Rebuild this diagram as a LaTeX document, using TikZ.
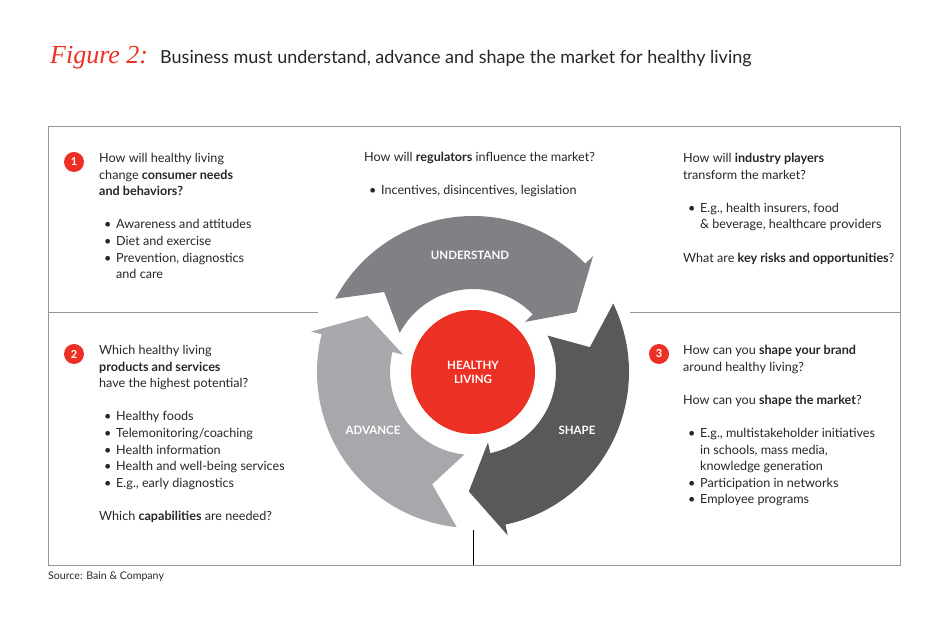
\documentclass[tikz,border=0pt]{standalone}
\usepackage{fontspec}
\setmainfont{Lato}
\newfontfamily\figfont{Liberation Serif}
\definecolor{bainred}{RGB}{237,48,36}
\definecolor{ringA}{RGB}{128,129,132}
\definecolor{ringB}{RGB}{88,89,91}
\definecolor{ringC}{RGB}{167,168,171}
\definecolor{rulegray}{RGB}{150,150,150}
\newcommand\bl{\hspace*{5pt}\makebox[12pt][l]{\textbullet}}
\newcommand\ct{\hspace*{17pt}}
% clockwise ring arrow: tail angle, tip angle, colour
\newcommand\ringarrow[3]{%
  \fill[#3] ($(Cn)+(#1:\Ro)$) arc[start angle=#1, end angle={#2+\hd}, radius=\Ro]
    -- ($(Cn)+({#2+\hd}:\Ro+\fl)$) -- ($(Cn)+(#2:\Rm)$)
    -- ($(Cn)+({#2+\hd}:\Ri-\fl)$) -- ($(Cn)+({#2+\hd}:\Ri)$)
    arc[start angle={#2+\hd}, end angle=#1, radius=\Ri]
    -- ($(Cn)+({#1-\hd}:\Rm)$) -- cycle;}
\usetikzlibrary{calc}
\begin{document}
\begin{tikzpicture}[x=1pt,y=1pt]
  \tikzset{txt/.style={anchor=north west,align=left,inner sep=0pt,font=\fontsize{12.6}{16.6}\selectfont,text=black!85},
    num/.style={circle,fill=bainred,text=white,minimum size=20pt,inner sep=0pt,font=\bfseries\fontsize{11}{11}\selectfont},
    lab/.style={text=white,font=\bfseries\fontsize{11.5}{14}\selectfont,align=center}}
  \useasboundingbox (0,0) rectangle (950,634);
  \def\Ro{156} \def\Ri{83} \def\Rm{119.5} \def\hd{14} \def\fl{11}
  \coordinate (Cn) at (473,262);
  % frame
  \draw[rulegray,line width=0.6pt] (48,508) rectangle (900,69);
  \draw[rulegray,line width=0.6pt] (48,322) -- (318,322) (630,322) -- (900,322);
  \draw[black,line width=0.6pt] (473,104) -- (473,69);
  % title
  \node[anchor=base west,inner sep=0pt,text=bainred,font=\figfont\itshape\fontsize{26}{26}\selectfont] (fig) at (50,570) {Figure 2:};
  \node[anchor=base west,inner sep=0pt,font=\fontsize{18}{20}\selectfont,text=black!85] (title) at (160,570) {Business must understand, advance and shape the market for healthy living};
  % cycle
  \ringarrow{152}{30}{ringA}
  \ringarrow{26}{-92}{ringB}
  \ringarrow{-96}{-208}{ringC}
  \fill[bainred] (Cn) circle (62);
  \node[lab] (hl) at (Cn) {HEALTHY\\LIVING};
  \node[lab] (und) at (470,379) {UNDERSTAND};
  \node[lab] (shp) at (577,204) {SHAPE};
  \node[lab] (adv) at (373,204) {ADVANCE};
  % numbers
  \node[num] (n1) at (74,472) {1};
  \node[num] (n2) at (74,280) {2};
  \node[num] (n3) at (659,280) {3};
  % texts
  \node[txt] (t1) at (99,481) {How will healthy living\\change \textbf{consumer needs}\\\textbf{and behaviors?}\\[16.6pt]
    \bl Awareness and attitudes\\\bl Diet and exercise\\\bl Prevention, diagnostics\\\ct and care};
  \node[txt] (t2) at (364,482) {How will \textbf{regulators} influence the market?\\[16.6pt]
    \bl Incentives, disincentives, legislation};
  \node[txt] (t3) at (683,481) {How will \textbf{industry players}\\transform the market?\\[16.6pt]
    \bl E.g., health insurers, food\\\ct \& beverage, healthcare providers\\[16.6pt]
    What are \textbf{key risks and opportunities}?};
  \node[txt] (t4) at (99,289) {Which healthy living\\\textbf{products and services}\\have the highest potential?\\[16.6pt]
    \bl Healthy foods\\\bl Telemonitoring/coaching\\\bl Health information\\\bl Health and well-being services\\\bl E.g., early diagnostics\\[16.6pt]
    Which \textbf{capabilities} are needed?};
  \node[txt] (t5) at (683,289) {How can you \textbf{shape your brand}\\around healthy living?\\[16.6pt]
    How can you \textbf{shape the market}?\\[16.6pt]
    \bl E.g., multistakeholder initiatives\\\ct in schools, mass media,\\\ct knowledge generation\\\bl Participation in networks\\\bl Employee programs};
  \node[anchor=base west,inner sep=0pt,font=\fontsize{10.6}{12}\selectfont,text=black!85] (src) at (48,54) {Source: Bain \& Company};
\end{tikzpicture}
\end{document}
